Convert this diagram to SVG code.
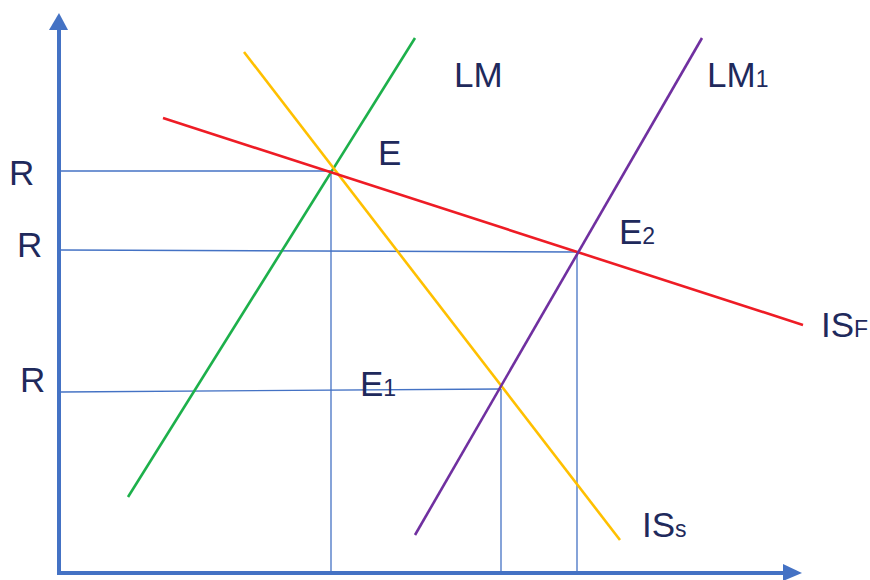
<svg xmlns="http://www.w3.org/2000/svg" width="870" height="580" viewBox="0 0 870 580">
<style>
.axis{stroke:#4472C4;stroke-width:4;fill:none}
.guide{stroke:#4472C4;stroke-width:1.3;fill:none}
.curve{stroke-width:2.6;fill:none}
text{font-family:"Liberation Sans",Arial,sans-serif;fill:#1F2A5C;font-size:35px}
.sub{font-size:23px}
</style>
<rect width="870" height="580" fill="#fff"/>
<g id="connectors">
<line class="guide" x1="61" y1="171" x2="333" y2="171"/>
<line class="guide" x1="331" y1="171" x2="331" y2="573"/>
<line class="guide" x1="61" y1="250" x2="578" y2="252"/>
<line class="guide" x1="577" y1="252" x2="577" y2="573"/>
<line class="guide" x1="61" y1="392" x2="501" y2="389"/>
<line class="guide" x1="501" y1="389" x2="501" y2="573"/>
</g>
<g id="axes">
<line class="axis" x1="59" y1="575" x2="59" y2="28"/>
<polygon points="49,30 59,13 68,30" fill="#4472C4"/>
<line class="axis" x1="57" y1="573" x2="786" y2="573"/>
<polygon points="783,564 802,573 783,581" fill="#4472C4"/>
</g>
<g id="LM"><line class="curve" stroke="#1DB04B" x1="128" y1="497" x2="415" y2="38"/></g>
<g id="ISs"><line class="curve" stroke="#FFC000" x1="244" y1="52" x2="620" y2="540"/></g>
<g id="ISF"><line class="curve" stroke="#EE1C25" x1="163" y1="118" x2="803" y2="325"/></g>
<g id="LM1"><line class="curve" stroke="#7030A0" x1="415" y1="535" x2="702" y2="38"/></g>
<g id="labels">
<text x="9" y="185">R</text>
<text x="17" y="257">R</text>
<text x="20" y="392">R</text>
<text x="454" y="87">LM</text>
<text x="707" y="87">LM<tspan class="sub">1</tspan></text>
<text x="378" y="165">E</text>
<text x="619" y="244">E<tspan class="sub">2</tspan></text>
<text x="360" y="396">E<tspan class="sub">1</tspan></text>
<text x="821" y="337">IS<tspan class="sub">F</tspan></text>
<text x="642" y="537">IS<tspan class="sub">s</tspan></text>
</g>
</svg>
